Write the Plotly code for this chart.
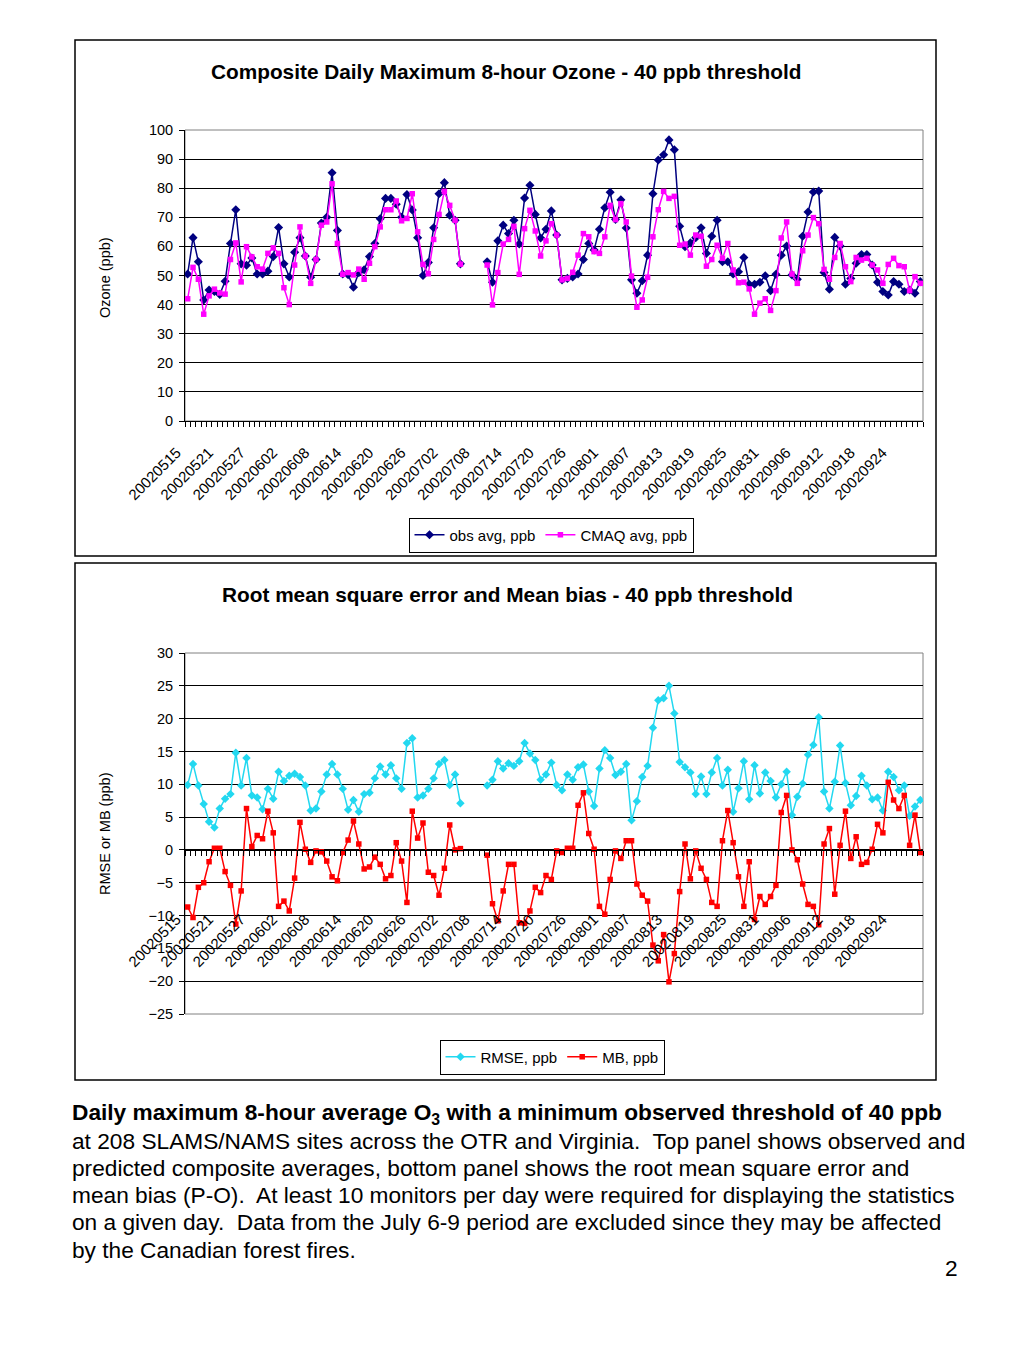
import plotly.graph_objects as go
import pandas as pd

# ---------------- data ----------------
dates = list(pd.date_range("2002-05-15", "2002-09-29").strftime("%Y%m%d"))
N = len(dates)
idx = list(range(N))

obs = [50.5, 63, 54.7, 41.6, 45, 44.5, 43.5, 48, 61, 72.6,
       54, 53.5, 56, 50.5, 50.5, 51.5, 56.5, 66.5, 54, 49.5,
       58, 63, 56.7, 49.4, 55.5, 68, 70, 85.3, 65.5, 50.5,
       50.3, 46, 51, 52, 56.5, 61, 69.5, 76.5, 76.5, 74.5,
       70, 77.8, 72.5, 63, 50, 54.5, 66.4, 78.1, 81.9, 70.7,
       69, 54, None, None, None, None, 54.7, 47.7, 61.9, 67.3,
       64.4, 69, 60.8, 76.6, 81, 71, 62.9, 65.9, 72.2, 63.9,
       48.5, 49, 49.5, 50.5, 55.5, 61, 58.8, 65.9, 73.3, 78.6,
       69.3, 76, 66.3, 48.5, 43.9, 48.2, 57, 78.1, 89.7, 91.5,
       96.6, 93.2, 66.9, 59.9, 61.2, 63, 66.4, 57.6, 63.5, 69,
       54.7, 54.7, 50.5, 51.3, 56.2, 47, 47, 47.7, 49.9, 44.8,
       50.4, 57, 60.1, 50.2, 48.7, 63.5, 71.8, 78.7, 79, 51,
       45.3, 63.1, 60.1, 47, 49, 54.2, 57.2, 57.2, 53.6, 47.7,
       44.5, 43.3, 47.9, 47, 44.5, 45, 43.9, 47.9]

cmaq = [42, 52.8, 48.7, 36.7, 43, 45.3, 44, 43.6, 55.5, 61.2,
        47.8, 59.9, 56.4, 53, 52.2, 57.6, 59.5, 57.6, 45.8, 40,
        53.6, 66.7, 56.7, 47.3, 55.5, 67.3, 68.4, 81.5, 61, 50.4,
        51, 50.2, 52.2, 48.7, 54.2, 59.9, 66.7, 72.6, 72.6, 75.6,
        68.8, 69.6, 78.1, 65, 53.8, 50.6, 62.4, 71, 78.9, 74.1,
        69, 53.9, None, None, None, None, 53.6, 39.9, 51, 60.8,
        62.4, 66.9, 50.4, 66.1, 72.4, 65.3, 56.7, 61.9, 67.8, 63.9,
        48.5, 49, 51.1, 57, 64.4, 63.3, 58.2, 57.6, 63.3, 74.1,
        69.2, 74.7, 68.4, 49.8, 39.1, 41.6, 49.4, 63.3, 72.6, 78.9,
        76.5, 77.2, 60.4, 60.8, 57, 63.9, 63.5, 53.2, 55.5, 60.4,
        55.9, 61, 51.9, 47.5, 47.7, 45.4, 36.7, 40.5, 42, 38,
        44.8, 62.9, 68.4, 50.5, 47.3, 58.5, 63.9, 69.9, 67.8, 52.1,
        48.7, 56.2, 61, 53, 47.9, 56.2, 55.3, 55.9, 53.6, 51.9,
        47.3, 53.8, 55.9, 53.4, 53, 44.8, 49.6, 47.3]

rmse = [9.9, 13.1, 9.8, 7.0, 4.3, 3.4, 6.3, 7.8, 8.5, 14.8,
        9.8, 14.0, 8.3, 8.0, 6.2, 9.3, 7.8, 11.9, 10.5, 11.3,
        11.6, 11.1, 9.8, 6.0, 6.3, 8.9, 11.5, 13.1, 11.5, 9.3,
        6.1, 7.6, 5.8, 8.5, 8.7, 10.9, 12.7, 11.5, 12.9, 10.9,
        9.3, 16.3, 17.0, 8.0, 8.3, 9.3, 10.9, 13.1, 13.7, 9.9,
        11.5, 7.1, None, None, None, None, 9.8, 10.7, 13.5, 12.4,
        13.2, 12.8, 13.5, 16.3, 14.7, 13.7, 10.7, 11.5, 13.3, 9.9,
        9.1, 11.5, 10.7, 12.6, 13.0, 8.9, 6.7, 12.4, 15.2, 14.0,
        11.4, 11.9, 13.1, 4.5, 7.4, 11.1, 12.8, 18.6, 22.8, 23.1,
        25.0, 20.8, 13.4, 12.6, 11.8, 8.5, 11.2, 8.5, 11.8, 14.0,
        9.8, 12.2, 5.8, 9.4, 13.5, 7.7, 12.9, 8.6, 11.8, 10.5,
        8.0, 10.0, 11.9, 5.3, 8.1, 10.1, 14.5, 16.0, 20.2, 8.9,
        6.3, 10.4, 15.9, 10.2, 6.8, 8.2, 11.3, 9.8, 7.7, 8.0,
        6.0, 11.9, 11.1, 9.1, 9.8, 5.2, 6.6, 7.6]

mb = [-8.7, -10.3, -5.7, -5.0, -1.8, 0.25, 0.25, -3.3, -5.4, -11.3,
      -6.25, 6.3, 0.5, 2.2, 1.7, 5.9, 2.6, -8.6, -7.8, -9.3,
      -4.3, 4.2, 0.1, -1.9, -0.15, -0.3, -1.7, -4.1, -4.7, -0.4,
      1.5, 4.4, 0.9, -2.9, -2.6, -1.1, -2.2, -4.4, -3.9, 1.1,
      -1.7, -8.0, 5.9, 1.8, 4.1, -3.4, -3.9, -6.9, -2.8, 3.8,
      0.0, 0.2, None, None, None, None, -0.8, -8.2, -10.8, -6.25,
      -2.2, -2.2, -11.1, -11.2, -9.3, -5.7, -6.5, -3.9, -4.5, -0.15,
      -0.4, 0.25, 0.25, 6.8, 8.7, 2.5, 0.1, -8.6, -9.8, -4.5,
      -0.15, -1.3, 1.4, 1.4, -5.2, -6.9, -7.8, -14.5, -16.9, -12.9,
      -20.1, -15.8, -6.35, 0.9, -4.4, -0.15, -2.8, -4.5, -8.0, -8.6,
      1.4, 6.0, 1.1, -4.1, -8.6, -1.8, -10.6, -7.1, -8.3, -7.1,
      -5.4, 5.7, 8.3, 0.0, -1.5, -5.2, -8.3, -8.6, -11.4, 0.9,
      3.25, -6.75, 0.7, 5.9, -1.3, 2.0, -2.2, -1.9, 0.1, 3.9,
      2.6, 10.3, 7.6, 6.3, 8.3, 0.7, 5.3, -0.4]

label_step = 6
tick_idx = idx[::label_step]
tick_txt = dates[::label_step]

# ---------------- layout geometry (pixels) ----------------
W, H = 1024, 1365
def py(y):  # pixel-from-top -> paper
    return 1 - y / H
def px(x):
    return x / W

xdom = [px(185), px(923)]
ydom1 = [py(421), py(130)]
ydom2 = [py(1014), py(653)]
y2range = [-25, 30]
zero_pos = ydom2[0] + (0 - y2range[0]) / (y2range[1] - y2range[0]) * (ydom2[1] - ydom2[0])

FONT = "Liberation Sans, Arial, sans-serif"

fig = go.Figure()

fig.add_trace(go.Scatter(x=idx, y=obs, name="obs avg, ppb", mode="lines+markers",
                         line=dict(color="#000080", width=1.5),
                         marker=dict(symbol="diamond", size=7, color="#000080"),
                         xaxis="x", yaxis="y", legend="legend", connectgaps=False))
fig.add_trace(go.Scatter(x=idx, y=cmaq, name="CMAQ avg, ppb", mode="lines+markers",
                         line=dict(color="#FF00FF", width=1.5),
                         marker=dict(symbol="square", size=5.5, color="#FF00FF"),
                         xaxis="x", yaxis="y", legend="legend", connectgaps=False))
fig.add_trace(go.Scatter(x=idx, y=rmse, name="RMSE, ppb", mode="lines+markers",
                         line=dict(color="#22D8F0", width=1.5),
                         marker=dict(symbol="diamond", size=6.5, color="#22D8F0"),
                         xaxis="x2", yaxis="y2", legend="legend2", connectgaps=False))
fig.add_trace(go.Scatter(x=idx, y=mb, name="MB, ppb", mode="lines+markers",
                         line=dict(color="#FF0000", width=1.5),
                         marker=dict(symbol="square", size=5.5, color="#FF0000"),
                         xaxis="x2", yaxis="y2", legend="legend2", connectgaps=False))

def xaxis_style(standoff):
    return dict(domain=xdom, range=[-0.5, N - 0.5], tickmode="array",
                tickvals=tick_idx, ticktext=tick_txt, ticks="", tickangle=-45,
                tickfont=dict(size=15, color="black", family=FONT),
                ticklabelstandoff=standoff, ticklabelshift=-11,
                showline=True, linecolor="black", linewidth=1,
                showgrid=False, zeroline=False, automargin=False,
                minor=dict(tickmode="linear", tick0=-0.5, dtick=1, ticks="outside",
                           ticklen=5, tickcolor="black", tickwidth=1, showgrid=False))

ycommon = dict(showline=True, linecolor="black", linewidth=1, ticks="outside",
               ticklen=5, tickcolor="black", showgrid=True, gridcolor="black",
               gridwidth=1, zeroline=False, automargin=False, ticklabelstandoff=3,
               tickfont=dict(size=14.5, color="black", family=FONT))

fig.update_layout(
    template="none",
    width=W, height=H, margin=dict(l=0, r=0, t=0, b=0, pad=0), autosize=False,
    paper_bgcolor="white", plot_bgcolor="white",
    font=dict(family=FONT, color="black"),
    xaxis=dict(anchor="y", **xaxis_style(16)),
    yaxis=dict(domain=ydom1, range=[0, 100], dtick=10, anchor="x", **ycommon),
    xaxis2=dict(anchor="free", position=zero_pos, **xaxis_style(54)),
    yaxis2=dict(domain=ydom2, range=y2range, dtick=5, anchor="x2", **ycommon),
    legend=dict(orientation="h", x=px(551), y=py(535), xanchor="center", yanchor="middle",
                bordercolor="black", borderwidth=1, bgcolor="white",
                font=dict(size=15, family=FONT), itemwidth=30, tracegroupgap=0),
    legend2=dict(orientation="h", x=px(552), y=py(1057), xanchor="center", yanchor="middle",
                 bordercolor="black", borderwidth=1, bgcolor="white",
                 font=dict(size=15, family=FONT), itemwidth=30, tracegroupgap=0),
    showlegend=True,
)

shapes = []
# outer chart frames
for (y0, y1) in [(40, 556), (563, 1080)]:
    shapes.append(dict(type="rect", xref="paper", yref="paper",
                       x0=px(75), x1=px(936), y0=py(y1), y1=py(y0),
                       line=dict(color="black", width=1.5), layer="below"))
# plot-area borders (grey)
for yd in (ydom1, ydom2):
    shapes.append(dict(type="rect", xref="paper", yref="paper",
                       x0=xdom[0], x1=xdom[1], y0=yd[0], y1=yd[1],
                       line=dict(color="#808080", width=1), layer="below"))
fig.update_layout(shapes=shapes)

ann = []
ann.append(dict(text="<b>Composite Daily Maximum 8-hour Ozone - 40 ppb threshold</b>",
                x=px(506), y=py(71), xref="paper", yref="paper", showarrow=False,
                xanchor="center", yanchor="middle", font=dict(size=20.8, family=FONT)))
ann.append(dict(text="<b>Root mean square error and Mean bias - 40 ppb threshold</b>",
                x=px(507), y=py(594), xref="paper", yref="paper", showarrow=False,
                xanchor="center", yanchor="middle", font=dict(size=20.8, family=FONT)))
ann.append(dict(text="Ozone (ppb)", textangle=-90, x=px(105), y=py(278), xref="paper",
                yref="paper", showarrow=False, xanchor="center", yanchor="middle",
                font=dict(size=14.5, family=FONT)))
ann.append(dict(text="RMSE or MB (ppb)", textangle=-90, x=px(105), y=py(834), xref="paper",
                yref="paper", showarrow=False, xanchor="center", yanchor="middle",
                font=dict(size=14.5, family=FONT)))

caption = [
    "<b>Daily maximum 8-hour average O<sub>3</sub> with a minimum observed threshold of 40 ppb</b>",
    "at 208 SLAMS/NAMS sites across the OTR and Virginia.\u00a0 Top panel shows observed and",
    "predicted composite averages, bottom panel shows the root mean square error and",
    "mean bias (P-O).\u00a0 At least 10 monitors per day were required for displaying the statistics",
    "on a given day.\u00a0 Data from the July 6-9 period are excluded since they may be affected",
    "by the Canadian forest fires.",
]
cap_y = [1113, 1141, 1168, 1195, 1222, 1250]
for t, yy in zip(caption, cap_y):
    ann.append(dict(text=t, x=px(70), y=py(yy), xref="paper", yref="paper", showarrow=False,
                    xanchor="left", yanchor="middle", align="left",
                    font=dict(size=22.7, family=FONT, color="black")))
ann.append(dict(text="2", x=px(951), y=py(1268), xref="paper", yref="paper", showarrow=False,
                xanchor="center", yanchor="middle", font=dict(size=22.7, family=FONT)))
fig.update_layout(annotations=ann)

fig.write_html("out.html", config={"displayModeBar": False},
               post_script="document.body.style.margin='0';")
